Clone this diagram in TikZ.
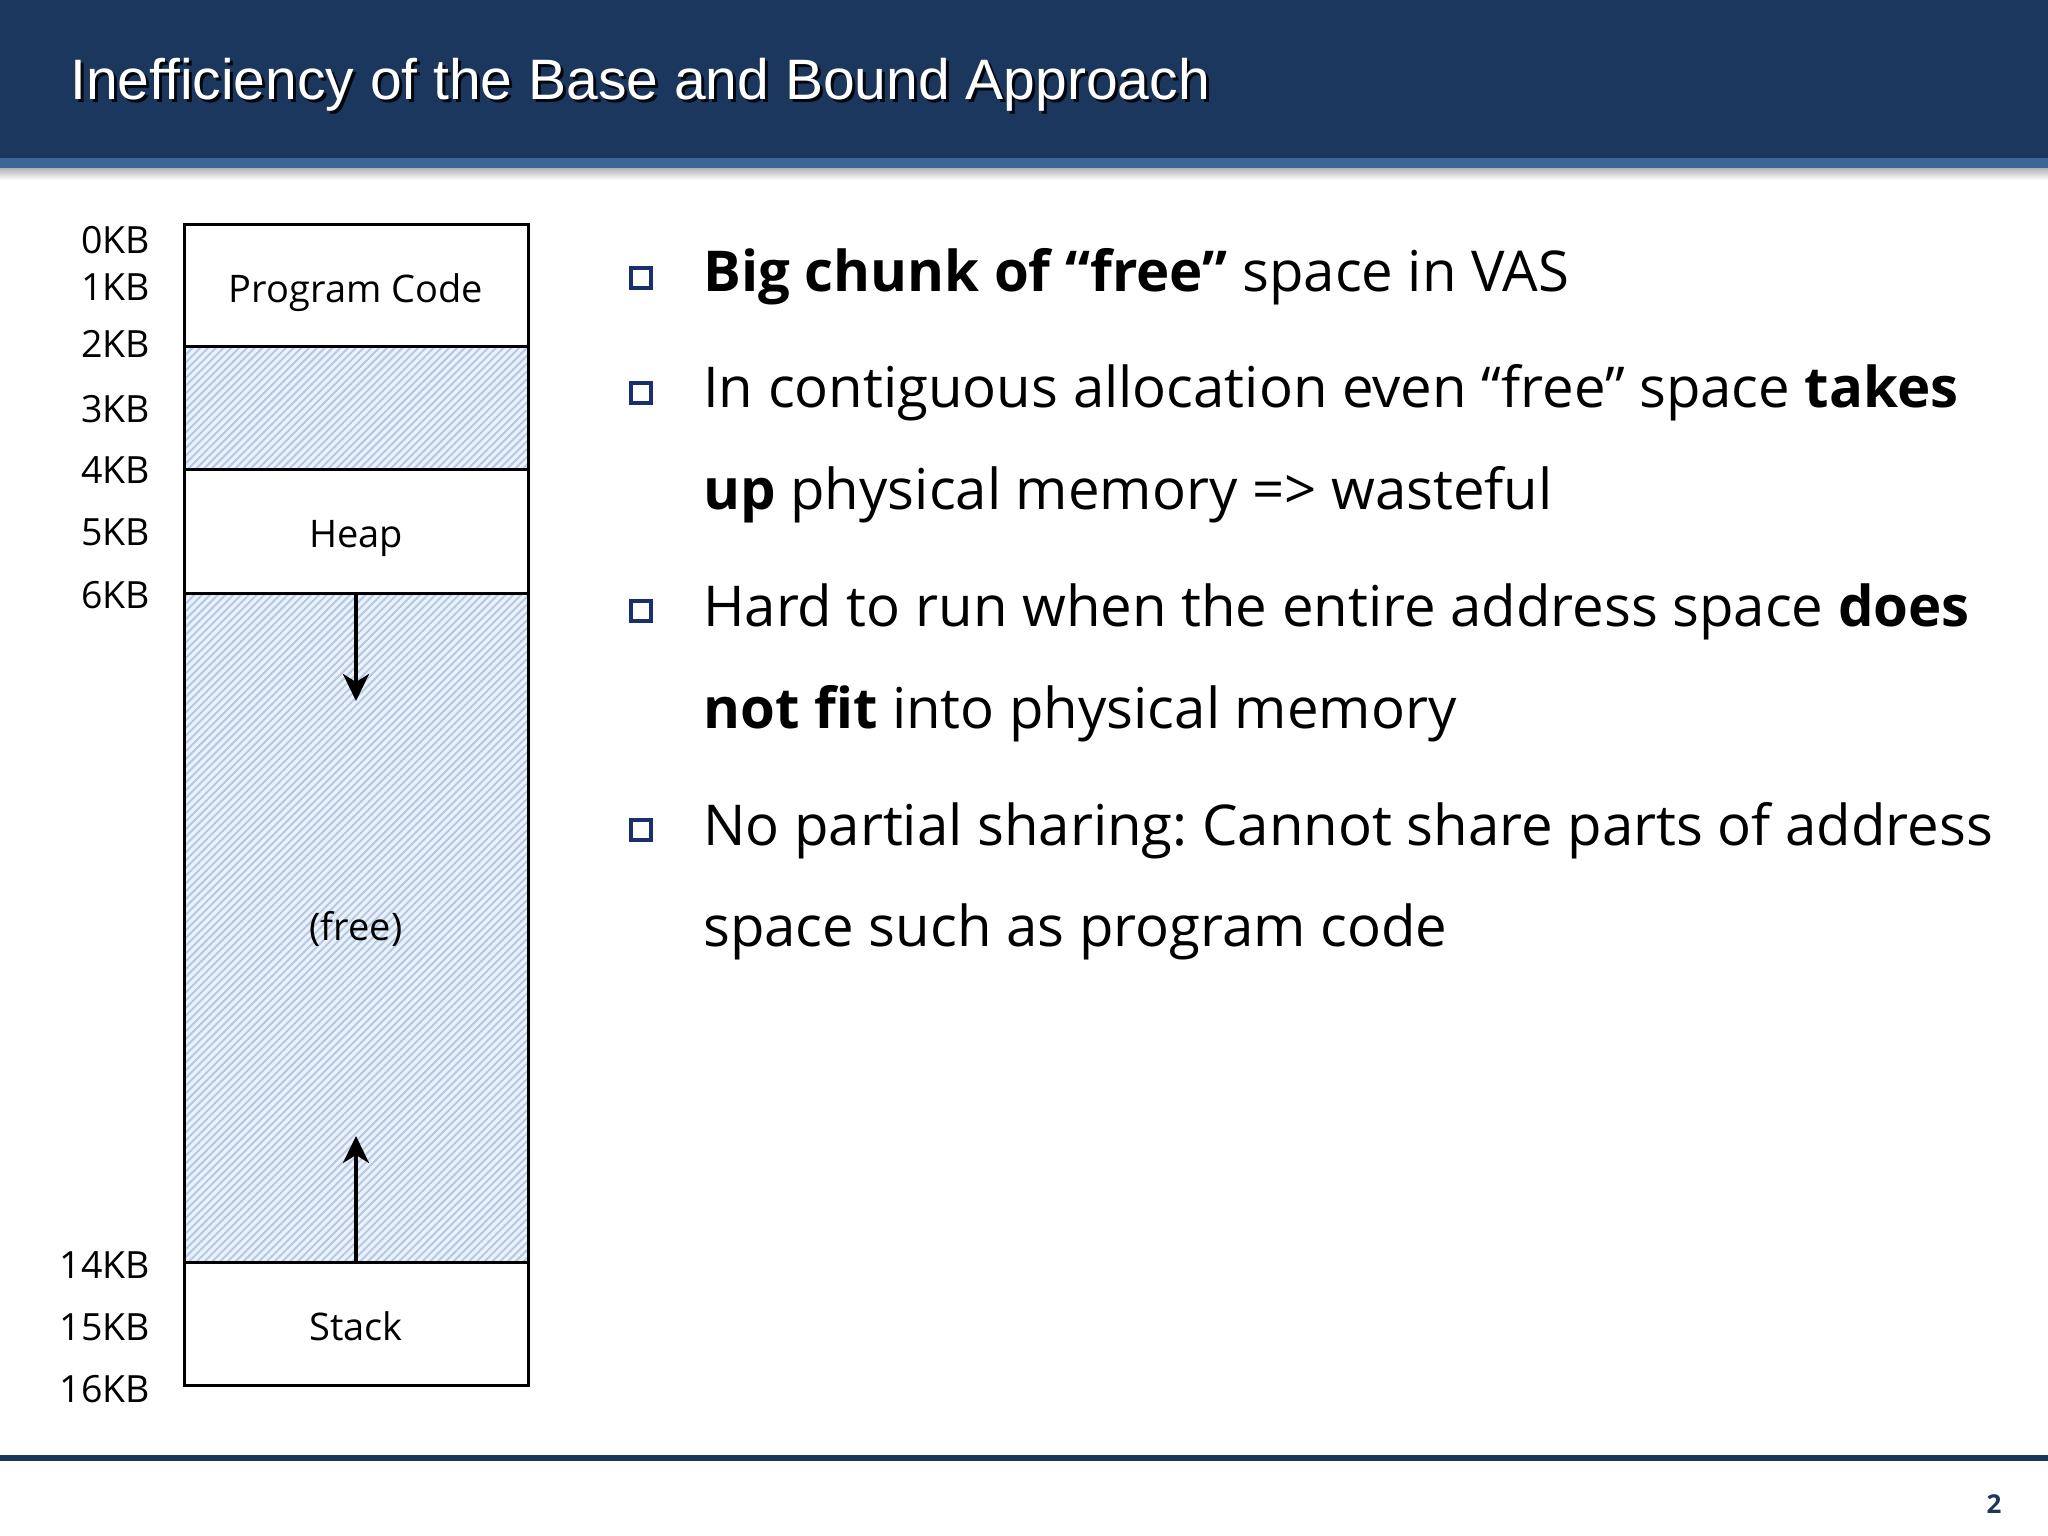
\documentclass[tikz,border=0pt]{standalone}
\usepackage{fontspec}
\setmainfont{Open Sans}
\newfontfamily\titlefont{Liberation Sans}
\usetikzlibrary{arrows.meta,patterns.meta}
\frenchspacing
\definecolor{navy}{HTML}{1B375E}
\definecolor{stripe}{HTML}{3C6598}
\definecolor{bulletc}{HTML}{1A2F6E}
\definecolor{hatchbg}{HTML}{EDF2F9}
\definecolor{hatchln}{HTML}{B4C9E6}
\tikzset{
  blk/.style={draw=black, line width=3pt, rectangle, inner sep=0pt, minimum width=344pt},
  freeblk/.style={blk, preaction={fill=hatchbg}, pattern={Lines[angle=45,distance=5.5pt,line width=2pt]}, pattern color=hatchln},
  inlbl/.style={anchor=base, inner sep=0pt, font=\fontsize{38}{42}\selectfont},
  kb/.style={anchor=base east, inner sep=0pt, font=\fontsize{37.5}{42}\selectfont},
  bul/.style={draw=bulletc, line width=4pt, rectangle, minimum size=20pt, inner sep=0pt},
  btxt/.style={anchor=base west, inner sep=0pt, font=\fontsize{56.3}{60}\selectfont},
  arr/.style={line width=4pt, -{Stealth[length=27pt,width=26pt,inset=8pt]}},
}
\begin{document}
\begin{tikzpicture}[x=1pt,y=-1pt]
\useasboundingbox (0,0) rectangle (2048,1536);
\fill[white] (0,0) rectangle (2048,1536);
% header
\fill[navy] (0,0) rectangle (2048,158);
\fill[stripe] (0,158) rectangle (2048,168);
\shade[top color=black!30, bottom color=white] (0,168) rectangle (2048,180);
\node[anchor=base west, inner sep=0pt, text=black, opacity=0.85, font=\titlefont\fontsize{57}{62}\selectfont] (titleshadow) at (73,103) {Inefficiency of the Base and Bound Approach};
\node[anchor=base west, inner sep=0pt, text=white, font=\titlefont\fontsize{57}{62}\selectfont] (title) at (70,100) {Inefficiency of the Base and Bound Approach};
% footer
\fill[navy] (0,1455) rectangle (2048,1461);
\node[inner sep=0pt, text=navy, font=\bfseries\fontsize{26}{30}\selectfont] (pageno) at (1994,1504) {2};
% memory blocks
\node[blk, minimum height=122pt] (code) at (356,285) {};
\node[freeblk, minimum height=123pt] (free1) at (356,407.5) {};
\node[blk, minimum height=124pt] (heap) at (356,531) {};
\node[freeblk, minimum height=669pt] (free2) at (356,927.5) {};
\node[blk, minimum height=123pt] (stack) at (356,1323.5) {};
\node[inlbl] (codelbl) at (356,302) {Program Code};
\node[inlbl] (heaplbl) at (356,547) {Heap};
\node[inlbl] (freelbl) at (356,940) {(free)};
\node[inlbl] (stacklbl) at (356,1340) {Stack};
\coordinate (dtip) at (356,701);
\coordinate (utip) at (356,1136);
\draw[arr] (heap.south) -- (dtip);
\draw[arr] (stack.north) -- (utip);
% labels
\node[kb] (k0) at (150,253) {0KB};
\node[kb] (k1) at (150,300) {1KB};
\node[kb] (k2) at (150,357) {2KB};
\node[kb] (k3) at (150,422) {3KB};
\node[kb] (k4) at (150,483) {4KB};
\node[kb] (k5) at (150,545) {5KB};
\node[kb] (k6) at (150,608) {6KB};
\node[kb] (k14) at (150,1278) {14KB};
\node[kb] (k15) at (150,1340) {15KB};
\node[kb] (k16) at (150,1402) {16KB};
% bullets
\node[bul] (b1) at (641,278) {};
\node[bul] (b2) at (641,393) {};
\node[bul] (b3) at (641,611) {};
\node[bul] (b4) at (641,830) {};
\node[btxt] (t1) at (703,291) {\textbf{Big chunk of “free”} space in VAS};
\node[btxt] (t2a) at (703,407) {In contiguous allocation even “free” space \textbf{takes}};
\node[btxt] (t2b) at (703,509) {\textbf{up} physical memory => wasteful};
\node[btxt] (t3a) at (703,626) {Hard to run when the entire address space \textbf{does}};
\node[btxt] (t3b) at (703,728) {\textbf{not fit} into physical memory};
\node[btxt] (t4a) at (703,845) {No partial sharing: Cannot share parts of address};
\node[btxt] (t4b) at (703,946) {space such as program code};
\end{tikzpicture}
\end{document}
